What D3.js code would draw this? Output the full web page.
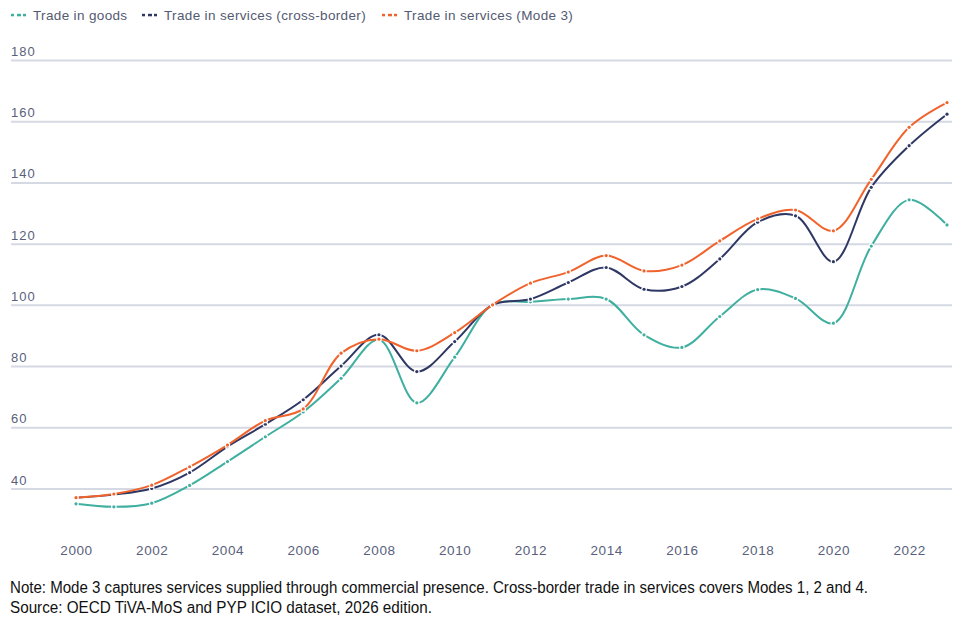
<!DOCTYPE html>
<html>
<head>
<meta charset="utf-8">
<script src="https://cdn.jsdelivr.net/npm/d3@7"></script>
<style>
  body { margin: 0; background: #fff; }
  text { font-family: "Liberation Sans", Arial, sans-serif; }
</style>
</head>
<body>
<div id="chart"></div>
<script>
const years = d3.range(2000, 2024);
const goods = [35, 34, 35.2, 41, 48.8, 56.9, 65, 76, 88.6, 68, 82.9, 100, 101, 101.9, 101.9, 90.2, 86.1, 96.2, 105, 102.1, 94, 119.2, 134.3, 126.1];
const crossBorder = [37, 38, 40, 45.2, 53.7, 61, 69, 80, 90.2, 78.2, 88, 100, 101.9, 107.3, 112.2, 105.1, 106, 115, 127, 129.1, 114.1, 138.4, 152, 162.3];
const mode3 = [37, 38.2, 41.1, 47.1, 54.2, 62.2, 66, 84.2, 88.8, 85, 90.9, 100, 107.1, 110.7, 116.1, 111.1, 113, 120.9, 128.1, 131, 124.2, 141, 158, 166.1];
const yTicks = [40, 60, 80, 100, 120, 140, 160, 180];
const xTicks = d3.range(2000, 2023, 2);

const series = [
  { name: "Trade in goods", values: goods, color: "#3fafa0" },
  { name: "Trade in services (cross-border)", values: crossBorder, color: "#2f3864" },
  { name: "Trade in services (Mode 3)", values: mode3, color: "#f1632c" }
];

const width = 963;
const height = 618;

const svg = d3.select("#chart")
  .append("svg")
  .attr("width", width)
  .attr("height", height);

const x = d3.scaleLinear()
  .domain([2000, 2023])
  .range([76, 947]);

const y = d3.scaleLinear()
  .domain([40, 180])
  .range([488.5, 60]);

// gridlines + y labels
const yAxis = svg.append("g")
  .attr("transform", "translate(11,0)")
  .call(d3.axisRight(y).tickValues(yTicks).tickSize(941).tickFormat(d3.format("d")));
yAxis.select(".domain").remove();
yAxis.selectAll(".tick line")
  .attr("stroke", "#d5d9e4")
  .attr("stroke-width", 2);
yAxis.selectAll(".tick text")
  .attr("x", 0)
  .attr("dy", -4.5)
  .attr("text-anchor", "start")
  .attr("fill", "#595f7c")
  .attr("font-size", "13px")
  .attr("letter-spacing", "1px");

// x labels
const xAxis = svg.append("g")
  .attr("transform", "translate(0,542)")
  .call(d3.axisBottom(x).tickValues(xTicks).tickSize(0).tickFormat(d3.format("d")));
xAxis.select(".domain").remove();
xAxis.selectAll(".tick text")
  .attr("fill", "#595f7c")
  .attr("font-size", "13.5px")
  .attr("letter-spacing", "0.6px");

const line = d3.line()
  .x((d, i) => x(years[i]))
  .y(d => y(d))
  .curve(d3.curveCatmullRom.alpha(0.5));

series.forEach(s => {
  svg.append("path")
    .datum(s.values)
    .attr("fill", "none")
    .attr("stroke", s.color)
    .attr("stroke-width", 2)
    .attr("d", line);

  const pts = svg.append("g");
  // white halo, then the dot
  pts.selectAll("circle.halo")
    .data(s.values)
    .join("circle")
      .attr("class", "halo")
      .attr("cx", (d, i) => x(years[i]))
      .attr("cy", d => y(d))
      .attr("r", 2.8)
      .attr("fill", "#fff");
  pts.selectAll("circle.dot")
    .data(s.values)
    .join("circle")
      .attr("class", "dot")
      .attr("cx", (d, i) => x(years[i]))
      .attr("cy", d => y(d))
      .attr("r", 1.6)
      .attr("fill", s.color);
});

// legend
const legendX = [11, 142, 382];
const legend = svg.append("g");
series.forEach((s, i) => {
  const g = legend.append("g").attr("transform", `translate(${legendX[i]},15)`);
  g.selectAll("rect")
    .data([0, 6, 12])
    .join("rect")
      .attr("x", d => d)
      .attr("y", -1.2)
      .attr("width", d => d === 6 ? 4 : 3)
      .attr("height", 2.5)
      .attr("fill", s.color);
  g.append("text")
    .attr("x", 22)
    .attr("y", 5)
    .attr("fill", "#545a72")
    .attr("font-size", "13.5px")
    .attr("letter-spacing", "0.35px")
    .text(s.name);
});

// notes
svg.append("text")
  .attr("x", 10)
  .attr("y", 593)
  .attr("font-family", "'Liberation Sans Narrow', 'Arial Narrow', 'Liberation Sans', sans-serif")
  .attr("font-size", "16px")
  .attr("fill", "#111")
  .attr("textLength", 858)
  .attr("lengthAdjust", "spacingAndGlyphs")
  .text("Note: Mode 3 captures services supplied through commercial presence. Cross-border trade in services covers Modes 1, 2 and 4.");

svg.append("text")
  .attr("x", 10)
  .attr("y", 613)
  .attr("font-family", "'Liberation Sans Narrow', 'Arial Narrow', 'Liberation Sans', sans-serif")
  .attr("font-size", "16px")
  .attr("fill", "#111")
  .attr("textLength", 422)
  .attr("lengthAdjust", "spacingAndGlyphs")
  .text("Source: OECD TiVA-MoS and PYP ICIO dataset, 2026 edition.");
</script>
</body>
</html>
